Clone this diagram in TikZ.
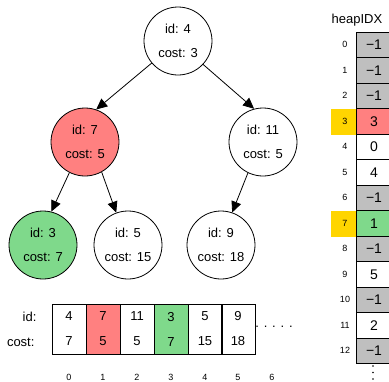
\documentclass[tikz,border=0pt]{standalone}
\usepackage{fontspec}
\setmainfont{Liberation Sans}
\usetikzlibrary{arrows.meta}
\definecolor{hred}{HTML}{FF8080}
\definecolor{hgreen}{HTML}{7FD98B}
\definecolor{hgrey}{HTML}{BFBFBF}
\definecolor{hyellow}{HTML}{FFD500}
\begin{document}
\begin{tikzpicture}[x=1pt,y=-1pt,
 tnode/.style={circle,draw,line width=0.8pt,minimum size=68pt,inner sep=0pt,align=center,font=\fontsize{13}{24}\selectfont},
 edge/.style={-{Triangle[length=11pt,width=10pt]},line width=0.8pt},
 cell/.style={rectangle,draw,line width=0.8pt,minimum width=34pt,minimum height=50pt,inner sep=0pt,align=center,font=\fontsize{13}{25}\selectfont},
 hcell/.style={rectangle,draw,line width=0.8pt,minimum width=36pt,minimum height=25.5pt,inner sep=0pt,font=\fontsize{14}{16}\selectfont},
 ybox/.style={rectangle,fill=hyellow,minimum width=25pt,minimum height=25.5pt,inner sep=0pt},
 idx/.style={font=\fontsize{9}{10}\selectfont},
 lbl/.style={font=\fontsize{13}{15}\selectfont,anchor=east}]
\useasboundingbox (0,0) rectangle (389,381);
\clip (0,0) rectangle (389,381);
% tree
\node[tnode] (r) at (178,41) {id: 4\\cost: 3};
\node[tnode,fill=hred] (a) at (85,142) {id: 7\\cost: 5};
\node[tnode] (b) at (263,142) {id: 11\\cost: 5};
\node[tnode,fill=hgreen] (c) at (43,245) {id: 3\\cost: 7};
\node[tnode] (d) at (128,245) {id: 5\\cost: 15};
\node[tnode] (e) at (221,245) {id: 9\\cost: 18};
\draw[edge] (r.220) -- (a.71);
\draw[edge] (r.317) -- (b.105);
\draw[edge] (a.243) -- (c.76);
\draw[edge] (a.299) -- (d.110);
\draw[edge] (b.244) -- (e.71);
% array
\node[lbl] (lid) at (40,317) {id:};
\node[lbl] (lcost) at (38,342) {cost:};
\node[cell] (c0) at (69,329) {4\\7};
\node[cell,fill=hred] (c1) at (103,329) {7\\5};
\node[cell] (c2) at (137,329) {11\\5};
\node[cell,fill=hgreen] (c3) at (171,329) {3\\7};
\node[cell] (c4) at (205,329) {5\\15};
\node[cell] (c5) at (238,329) {9\\18};
\node[font=\fontsize{13}{15}\selectfont] (dots) at (274,327) {. . . . .};
\foreach \i/\x in {0/69,1/103,2/137,3/171,4/205,5/238,6/272}
  \node[idx] (ai\i) at (\x,377) {\i};
% heapIDX
\node[font=\fontsize{13}{15}\selectfont] (htitle) at (357,20) {heapIDX};
\node[ybox] (y3) at (343.5,122) {};
\node[ybox] (y7) at (343.5,224) {};
\foreach \i/\v/\f in {0/−1/hgrey,1/−1/hgrey,2/−1/hgrey,3/3/hred,4/0/white,5/4/white,6/−1/hgrey,7/1/hgreen,8/−1/hgrey,9/5/white,10/−1/hgrey,11/2/white,12/−1/hgrey}{
  \node[hcell,fill=\f] (h\i) at (374,44.75+25.5*\i) {\v};
  \node[idx] (hi\i) at (345,44.75+25.5*\i) {\i};
}
\coordinate (vd) at (373,366);
\fill (vd) circle (0.8pt) ++(0,6.5) circle (0.8pt) ++(0,6.5) circle (0.8pt);
\end{tikzpicture}
\end{document}
